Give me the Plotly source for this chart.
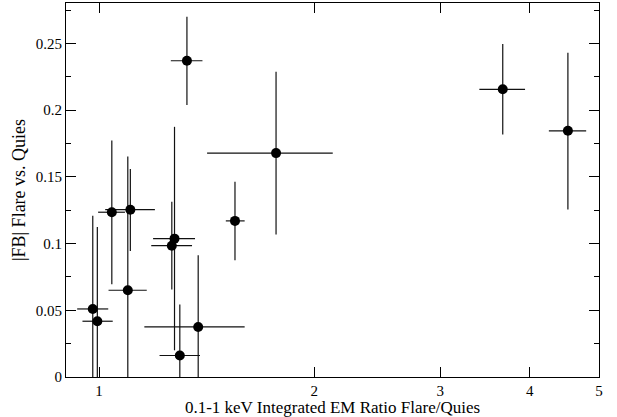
import plotly.graph_objects as go

# Data (x: EM ratio, y: |FB| ratio), with error bar ends
x_val = [1.327, 3.668, 4.524, 1.768, 1.549, 1.042, 1.106, 1.097, 1.275, 1.264, 0.980, 0.9945, 1.297, 1.376]
x_lo  = [1.260, 3.402, 4.255, 1.416, 1.504, 0.997, 1.020, 1.031, 1.190, 1.183, 0.932, 0.948, 1.215, 1.157]
x_hi  = [1.395, 3.941, 4.798, 2.122, 1.598, 1.087, 1.197, 1.166, 1.362, 1.349, 1.030, 1.045, 1.384, 1.598]
y_val = [0.2370, 0.2156, 0.1845, 0.1678, 0.1170, 0.1235, 0.1254, 0.0650, 0.1037, 0.0984, 0.0510, 0.0418, 0.0161, 0.0375]
y_lo  = [0.2039, 0.1818, 0.1256, 0.1068, 0.0875, 0.0695, 0.0945, -0.035, 0.0200, 0.0656, -0.019, -0.029, -0.022, -0.016]
y_hi  = [0.2700, 0.2495, 0.2430, 0.2288, 0.1464, 0.1773, 0.1558, 0.1653, 0.1875, 0.1313, 0.1208, 0.1125, 0.0543, 0.0913]

x_ticks = [1, 2, 3, 4, 5]
y_ticks = [0, 0.05, 0.1, 0.15, 0.2, 0.25]
y_tick_text = ["0", "0.05", "0.1", "0.15", "0.2", "0.25"]

font = "Liberation Serif"

fig = go.Figure()
fig.add_trace(go.Scatter(
    x=x_val, y=y_val, mode="markers",
    marker=dict(color="black", size=10),
    error_x=dict(type="data", symmetric=False,
                 array=[h - v for h, v in zip(x_hi, x_val)],
                 arrayminus=[v - l for v, l in zip(x_val, x_lo)],
                 color="#111111", thickness=1.2, width=0),
    error_y=dict(type="data", symmetric=False,
                 array=[h - v for h, v in zip(y_hi, y_val)],
                 arrayminus=[v - l for v, l in zip(y_val, y_lo)],
                 color="#111111", thickness=1.2, width=0),
    showlegend=False,
))

axis_common = dict(
    showline=True, linecolor="black", linewidth=1, mirror="allticks",
    ticks="inside", ticklen=10, tickcolor="black", tickwidth=1,
    showgrid=False, zeroline=False,
    tickfont=dict(family=font, size=15, color="black"),
)

fig.update_xaxes(
    type="log", range=[-0.0462, 0.699],
    tickvals=x_ticks, ticktext=[str(t) for t in x_ticks],
    title=dict(text="0.1-1 keV Integrated EM Ratio Flare/Quies",
               font=dict(family=font, size=17, color="black"), standoff=0),
    **axis_common,
)
fig.update_yaxes(
    range=[0, 0.2803],
    tickvals=y_ticks, ticktext=y_tick_text,
    minor=dict(ticks="inside", ticklen=5, dtick=0.025, tick0=0, tickcolor="black"),
    title=dict(text="|FB| Flare vs. Quies",
               font=dict(family=font, size=18, color="black"), standoff=5),
    **axis_common,
)

fig.update_layout(
    width=617, height=417,
    margin=dict(l=66, r=18, t=3, b=40),
    plot_bgcolor="white", paper_bgcolor="white",
    font=dict(family=font, size=15, color="black"),
)

fig.write_html("out.html")
